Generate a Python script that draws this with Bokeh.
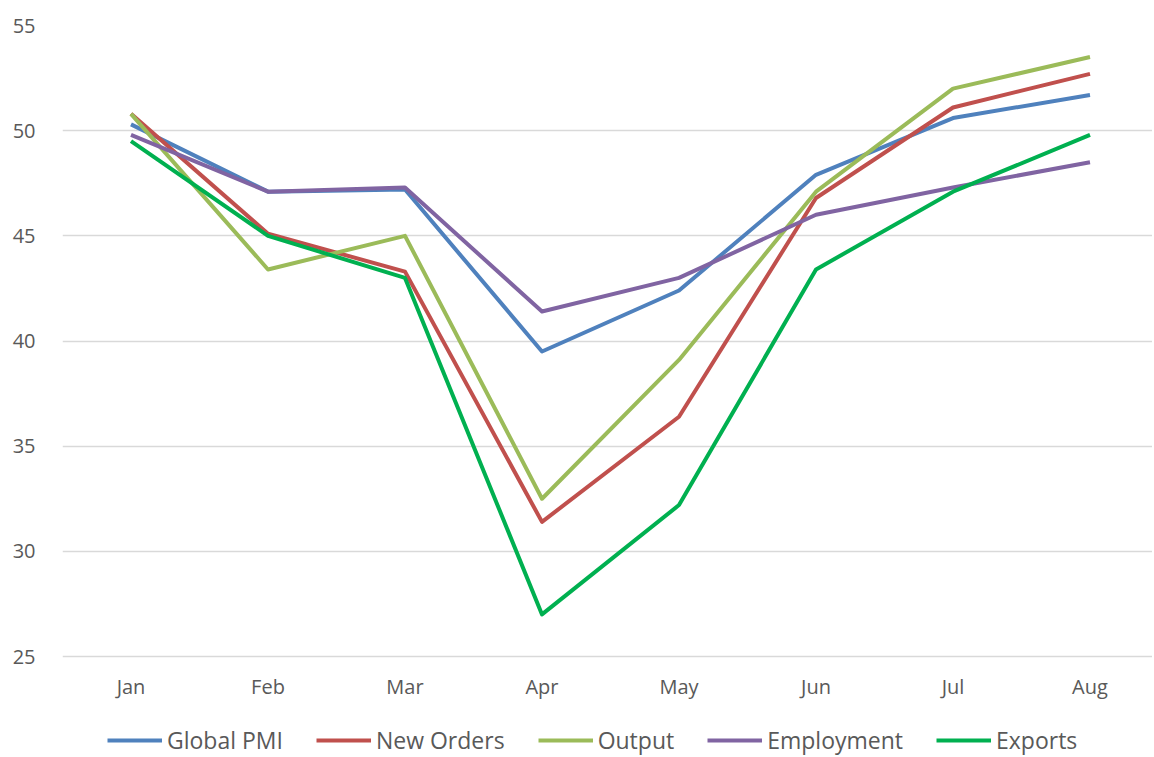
from bokeh.plotting import figure
from bokeh.models import Range1d, FixedTicker, Legend, LegendItem, LinearAxis
from bokeh.embed import file_html
from bokeh.resources import INLINE

months = ["Jan", "Feb", "Mar", "Apr", "May", "Jun", "Jul", "Aug"]
global_pmi = [50.3, 47.1, 47.2, 39.5, 42.4, 47.9, 50.6, 51.7]
new_orders = [50.8, 45.1, 43.3, 31.4, 36.4, 46.8, 51.1, 52.7]
output = [50.8, 43.4, 45.0, 32.5, 39.1, 47.1, 52.0, 53.5]
employment = [49.8, 47.1, 47.3, 41.4, 43.0, 46.0, 47.3, 48.5]
exports = [49.5, 45.0, 43.0, 27.0, 32.2, 43.4, 47.1, 49.8]
y_ticks = [25, 30, 35, 40, 45, 50, 55]

series = [
    ("Global PMI", global_pmi, "#4F81BD"),
    ("New Orders", new_orders, "#C0504D"),
    ("Output", output, "#9BBB59"),
    ("Employment", employment, "#8064A2"),
    ("Exports", exports, "#00B050"),
]

xs = list(range(len(months)))

# frame extends below the value axis to leave room for labels and legend
PX_PER_UNIT = 631 / 30.0
FRAME_H = 731
FRAME_W = 1090
CAT_W = 137.0
y_low = 55 - FRAME_H / PX_PER_UNIT
x_hi = -0.5 + FRAME_W / CAT_W

p = figure(frame_width=FRAME_W, frame_height=FRAME_H, output_backend="svg",
           toolbar_location=None, x_axis_location=None,
           x_range=Range1d(-0.5, x_hi), y_range=Range1d(y_low, 55),
           min_border_left=62, min_border_right=0, min_border_top=25,
           min_border_bottom=0)
p.outline_line_color = None
p.background_fill_color = "white"
p.border_fill_color = "white"

FONT = "Open Sans"
TXT = "#595959"

xaxis = LinearAxis(fixed_location=y_ticks[0], ticker=FixedTicker(ticks=xs),
                   major_label_overrides={i: m for i, m in enumerate(months)})
p.add_layout(xaxis, "below")
p.yaxis.ticker = FixedTicker(ticks=y_ticks)
for ax in (xaxis, p.yaxis[0]):
    ax.axis_line_color = None
    ax.major_tick_line_color = None
    ax.minor_tick_line_color = None
    ax.major_label_text_font = FONT
    ax.major_label_text_font_size = "20px"
    ax.major_label_text_color = TXT
p.yaxis.major_label_standoff = 21
xaxis.major_label_standoff = 10

p.xgrid.grid_line_color = None
p.ygrid.grid_line_color = "#D9D9D9"
p.ygrid.grid_line_width = 1.5
p.ygrid.bounds = (y_ticks[0], y_ticks[-1])

items = []
for name, vals, color in series:
    r = p.line(xs, vals, line_color=color, line_width=4, line_join="round")
    items.append(LegendItem(label=name, renderers=[r]))

legend = Legend(items=items, orientation="horizontal", location=(45, 0),
                label_text_font=FONT, label_text_font_size="23px",
                label_text_color=TXT, glyph_width=55, glyph_height=16,
                label_standoff=5, spacing=33, padding=0, margin=0,
                label_height=16,
                border_line_color=None, background_fill_alpha=0)
p.add_layout(legend, "center")

open("out.html", "w").write(file_html(p, INLINE))
